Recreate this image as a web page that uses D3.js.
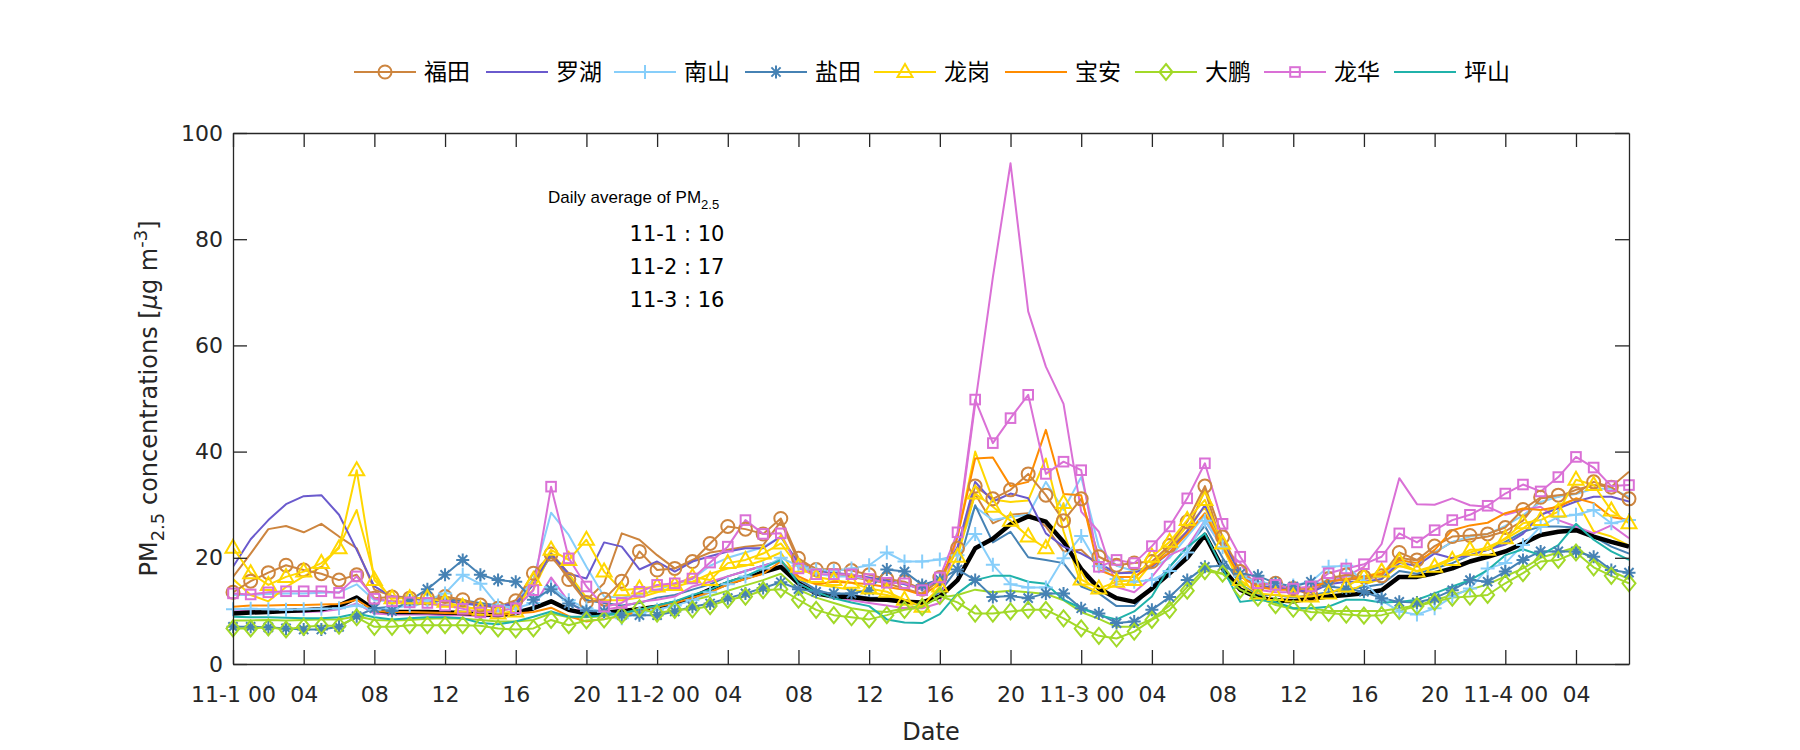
<!DOCTYPE html>
<html>
<head>
<meta charset="utf-8">
<script src="https://cdn.jsdelivr.net/npm/d3@7"></script>
<style>
  html, body { margin: 0; padding: 0; background: #fff; }
  svg { display: block; }
</style>
</head>
<body>
<svg id="chart" width="1800" height="750"></svg>
<script>
// ---------------- DATA ----------------
const stationNames = ["福田", "罗湖", "南山", "盐田", "龙岗", "宝安", "大鹏", "龙华", "坪山"];
const tickHours = [0, 4, 8, 12, 16, 20, 24, 28, 32, 36, 40, 44, 48, 52, 56, 60, 64, 68, 72, 76];
const tickLabels = ["11-1 00", "04", "08", "12", "16", "20", "11-2 00", "04", "08", "12", "16", "20",
                    "11-3 00", "04", "08", "12", "16", "20", "11-4 00", "04"];
const yTicks = [0, 20, 40, 60, 80, 100];
const dailyAverage = [["11-1", 10], ["11-2", 17], ["11-3", 16]];

// hourly PM2.5, 11-1 00 .. 11-4 07 (80 hours)
const futian = [13.5,15.6,17.2,18.6,17.7,17.0,15.8,16.8, 12.4,12.6,12.4,12.4,12.7,12.1,11.1,10.5,
  11.9,17.1,20.7,15.9,11.6,12.2,15.6,21.2, 17.7,18.0,19.3,22.7,25.9,25.4,24.5,27.4,
  19.9,17.8,17.9,17.6,16.8,16.0,15.5,14.1, 16.3,21.8,33.5,31.1,32.8,35.8,31.8,27.0,
  31.1,20.2,18.6,19.0,19.3,22.3,26.8,33.5, 23.9,17.4,14.9,15.2,14.2,13.0,16.1,16.8,
  16.4,16.6,21.0,19.6,22.2,24.0,24.2,24.5, 25.7,29.1,31.4,31.8,32.1,34.3,33.3,31.1];
const luohu = [18.3,23.5,27.1,30.1,31.6,31.8,28.1,21.5, 14.6,12.7,12.3,12.0,11.8,11.5,11.0,10.8,
  11.5,15.0,20.8,17.0,16.1,22.9,22.1,17.8, 19.3,17.4,19.3,20.3,21.2,21.8,21.8,24.0,
  19.0,17.5,17.2,16.8,16.3,15.7,15.0,14.2, 15.8,22.0,34.3,30.6,32.1,31.2,24.6,22.1,
  20.8,19.0,17.1,17.2,18.3,21.0,25.0,29.9, 23.0,17.0,14.5,14.5,14.0,13.5,15.0,15.5,
  15.5,16.0,19.0,18.5,20.8,19.9,20.5,21.5, 22.5,24.5,28.1,29.3,30.6,31.5,31.5,30.6];
const nanshan = [10.3,10.4,10.3,10.2,10.3,10.4,10.5,11.0, 10.2,10.5,11.0,12.0,13.3,16.8,15.1,11.0,
  10.5,11.5,14.5,12.0,10.5,9.8,8.6,9.6, 10.2,11.0,12.0,13.5,15.0,16.5,18.0,20.0,
  18.5,17.8,17.5,18.0,18.6,21.0,19.3,19.3, 19.7,20.5,24.5,18.7,15.0,14.4,14.4,19.9,
  24.1,18.4,16.0,15.5,15.8,17.5,21.0,27.0, 22.0,16.5,15.5,15.0,14.8,15.5,18.3,18.5,
  15.5,12.0,9.9,9.3,10.5,12.7,14.2,18.0, 19.0,22.4,25.9,27.7,28.1,29.0,26.5,27.1];
const yantian = [7.0,7.0,6.9,6.7,6.5,6.5,7.0,9.0, 10.5,10.0,12.0,14.1,16.8,19.6,16.8,15.8,
  15.5,12.1,14.1,11.4,10.0,9.9,9.2,9.2, 9.2,9.9,10.8,11.4,12.4,13.3,14.3,15.4,
  14.1,13.6,13.3,13.3,13.9,17.8,17.4,14.9, 15.9,17.8,15.8,12.6,12.8,12.4,13.3,13.3,
  10.5,9.5,7.7,8.0,10.2,12.6,15.8,18.3, 18.5,17.0,16.6,15.2,14.6,15.5,14.6,14.2,
  13.6,12.4,11.7,11.6,12.4,13.9,15.8,15.5, 17.4,19.6,21.2,21.2,21.2,20.2,17.7,17.2];
const longgang = [21.9,17.1,14.9,16.4,17.4,19.0,21.8,36.5, 15.8,12.4,12.4,12.4,11.7,10.8,10.2,9.5,
  9.9,15.8,21.5,19.6,23.4,17.4,13.9,14.2, 14.6,14.9,16.4,15.8,19.0,19.6,20.8,22.7,
  18.3,16.4,15.8,15.3,14.2,13.6,12.1,10.8, 14.6,20.2,32.1,29.6,27.0,24.0,21.8,30.3,
  15.9,14.2,15.5,15.8,20.2,23.0,27.1,30.9, 22.7,15.8,13.3,13.0,12.7,12.7,13.3,14.6,
  16.4,17.4,19.3,17.4,18.3,19.6,21.5,21.5, 23.7,26.5,27.1,28.7,34.7,33.7,28.9,26.5];
const baoan = [10.8,11.0,11.0,11.1,11.1,11.2,11.3,12.1, 10.0,9.8,9.8,9.7,9.6,9.5,9.3,9.2,
  9.5,9.8,10.6,9.0,8.0,8.5,9.0,10.0, 10.8,11.5,12.5,13.5,15.0,16.0,17.0,19.3,
  16.5,15.0,15.5,15.3,15.0,14.5,14.0,13.0, 15.0,24.0,38.7,38.9,33.5,34.3,44.1,32.0,
  31.8,17.7,16.4,16.4,18.6,21.0,24.5,28.4, 22.0,16.5,14.5,14.0,14.0,14.5,15.5,16.0,
  16.5,17.0,19.6,19.0,21.5,25.2,26.1,26.6, 28.4,29.3,29.0,29.6,31.2,30.3,27.7,27.1];
const dapeng = [6.7,6.7,6.9,6.5,7.0,7.2,7.2,8.8, 7.0,7.0,7.3,7.3,7.3,7.3,7.2,6.7,
  6.5,6.7,8.3,7.3,8.2,8.4,9.2,10.5, 9.5,10.2,10.3,10.9,12.1,12.7,13.9,14.1,
  12.1,10.2,9.2,8.8,8.4,9.2,10.2,10.7, 12.8,11.6,9.5,9.5,9.9,10.2,10.2,8.6,
  6.7,5.3,4.8,6.1,8.3,10.2,13.8,17.5, 17.0,14.0,12.5,11.1,10.4,9.8,9.6,9.3,
  9.1,9.2,10.0,10.9,11.7,12.5,12.7,13.0, 15.2,17.1,19.3,19.6,21.0,18.2,16.6,15.2];
const longhua = [13.3,13.1,13.5,13.7,13.7,13.7,13.4,16.5, 12.3,11.8,11.6,11.5,11.0,10.4,9.7,10.0,
  10.5,13.9,33.4,19.9,14.6,10.8,11.5,13.6, 14.9,15.2,16.1,19.1,22.1,27.1,24.5,24.6,
  18.0,16.9,16.9,16.9,16.0,15.3,15.2,13.9, 16.3,24.8,49.8,41.6,46.3,50.7,35.8,38.1,
  36.5,18.3,19.6,19.0,22.2,25.9,31.2,37.8, 26.4,20.2,15.2,14.9,14.2,14.6,17.1,18.0,
  18.8,20.2,24.6,22.9,25.2,27.1,28.1,29.8, 32.1,33.8,32.5,35.2,39.0,37.0,33.5,33.7];
const pingshan = [8.9,8.8,8.8,8.7,8.6,8.6,8.8,9.5, 8.8,8.4,8.6,8.8,8.8,8.6,7.7,7.5,
  8.0,8.9,9.9,8.9,8.9,9.2,9.6,10.2, 11.0,11.8,13.0,14.0,15.5,16.5,18.0,19.6,
  15.2,13.5,12.4,11.6,10.9,8.4,7.8,7.7, 9.4,13.3,15.8,16.6,16.6,15.5,15.1,12.1,
  10.5,9.2,8.4,9.9,12.7,18.3,22.0,24.6, 18.0,11.7,12.1,11.7,10.5,10.5,10.8,12.1,
  12.1,11.6,11.7,12.1,13.3,14.6,15.8,17.7, 20.5,21.6,20.5,22.4,26.4,23.4,21.2,19.6];

// second group of stations (drawn without markers)
const futian2 = [16.4,20.8,25.4,26.0,24.8,26.4,24.0,21.8, 14.0,12.8,12.5,12.2,12.3,11.8,11.0,10.8,
  12.0,16.0,20.2,16.4,12.0,15.2,24.6,23.4, 20.5,18.0,19.6,21.0,21.5,22.1,22.4,26.8,
  19.3,18.0,17.1,16.4,15.8,15.2,14.2,13.3, 15.8,21.5,32.0,26.5,28.1,28.4,25.9,21.2,
  21.5,18.3,17.1,17.4,18.6,21.8,25.0,32.8, 22.0,16.5,14.5,14.5,14.0,14.0,15.5,16.0,
  16.0,16.5,20.0,19.5,21.0,23.0,23.5,24.0, 25.0,27.0,31.2,31.5,32.8,33.7,33.4,36.2];
const nanshan2 = [13.0,13.0,13.2,13.3,13.3,13.4,13.5,15.0, 12.0,11.8,11.7,11.5,11.0,11.3,11.0,10.8,
  11.5,16.0,28.5,24.3,18.3,12.7,12.5,13.0, 14.0,15.0,16.0,18.5,20.0,21.0,22.0,24.0,
  18.5,17.0,16.5,16.5,16.0,15.5,15.0,14.0, 16.0,22.0,29.6,27.1,27.7,28.1,34.3,29.0,
  35.2,22.0,18.5,17.5,18.0,20.0,24.0,28.0, 22.0,17.0,15.0,14.5,14.0,14.5,16.0,16.5,
  16.5,16.5,19.5,19.0,21.0,23.0,24.0,24.5, 26.0,28.0,30.5,31.5,32.0,33.0,33.0,31.5];
const yantian2 = [9.8,9.8,9.9,10.0,10.0,10.1,10.4,12.5, 10.5,10.8,11.0,11.5,12.0,12.0,11.5,11.0,
  11.0,15.0,20.5,17.0,12.0,11.5,11.0,11.5, 12.5,13.0,14.0,15.0,16.5,17.5,18.5,19.5,
  16.0,14.0,13.0,13.0,12.5,12.5,12.0,11.5, 13.5,18.0,29.9,22.9,24.9,20.1,19.6,19.0,
  14.6,13.3,10.9,10.9,14.6,18.3,22.0,26.0, 20.0,15.0,13.0,13.0,12.5,13.0,13.5,14.0,
  14.5,15.0,17.5,17.0,18.0,19.0,20.5,21.5, 23.0,24.9,25.9,25.9,25.7,24.0,22.1,20.8];
const longgang2 = [16.0,13.0,11.8,14.5,16.5,18.3,22.1,29.0, 16.5,12.0,11.5,11.3,11.0,10.8,10.3,10.0,
  10.5,14.0,21.0,17.0,12.5,12.0,12.0,12.5, 13.5,14.5,15.5,17.0,18.0,18.5,19.5,21.0,
  16.0,15.0,14.5,14.0,13.5,13.0,12.0,11.5, 14.0,24.0,40.0,31.0,30.5,30.8,38.7,25.0,
  15.0,13.5,15.0,15.0,19.0,22.0,26.0,29.5, 22.0,15.0,12.5,12.0,12.0,12.0,12.5,13.5,
  15.0,16.0,18.5,17.5,18.5,20.0,21.0,22.0, 23.5,25.5,28.0,30.0,31.0,25.0,24.0,22.3];
const dapeng2 = [8.2,8.2,8.3,8.2,8.3,8.4,8.4,9.0, 8.3,8.2,8.3,8.5,8.6,8.5,8.3,8.0,
  8.0,8.3,9.5,8.8,8.8,9.0,9.5,10.2, 10.8,11.5,12.0,12.8,13.8,14.8,15.8,17.0,
  14.0,12.5,11.5,10.5,10.0,9.8,10.5,11.0, 12.5,13.0,14.0,13.5,13.8,13.5,13.2,12.0,
  9.8,8.5,7.0,7.0,8.5,11.0,14.5,18.0, 17.0,14.0,12.5,11.5,10.5,10.5,10.0,10.0,
  10.0,10.0,10.5,11.0,12.0,13.0,14.0,15.0, 16.5,18.0,20.0,21.0,22.0,19.5,17.5,16.0];
const longhua2 = [10.2,9.9,9.8,9.8,9.8,9.9,10.3,11.4, 9.5,9.3,9.3,9.3,9.2,9.2,9.0,9.0,
  9.3,10.8,16.3,11.7,9.5,10.2,10.8,11.7, 12.1,12.7,14.6,15.5,16.5,17.5,18.5,19.3,
  15.5,13.5,12.5,12.0,11.5,11.0,10.5,10.5, 11.5,24.0,49.0,72.8,94.3,66.4,56.0,49.0,
  28.7,24.9,14.5,13.5,16.4,20.5,22.0,27.0, 22.0,19.0,14.0,13.5,13.5,14.0,15.5,16.5,
  18.3,22.6,35.0,30.1,30.0,31.2,29.9,29.6, 28.1,29.0,29.6,27.1,25.9,24.6,26.1,23.7];
// average of all stations (thick black line)
const meanAll = [9.5,9.7,9.8,10.0,10.1,10.3,11.0,12.5, 10.2,9.8,9.8,9.8,9.7,9.6,9.4,9.2,
  9.6,10.5,11.8,10.2,9.5,9.6,10.0,10.3, 10.8,11.5,12.5,14.0,15.2,16.3,17.3,18.3,
  15.2,13.3,12.7,12.6,12.2,12.1,11.7,11.6, 12.7,15.8,21.8,23.6,26.3,27.8,26.8,23.0,
  17.9,14.2,12.4,11.7,14.2,17.1,20.0,24.3, 18.0,14.0,12.5,12.0,11.8,12.4,12.7,13.0,
  13.3,13.9,16.4,16.4,17.1,18.0,19.3,20.2, 21.2,22.7,24.3,24.9,25.2,24.0,23.0,22.1];

// ---------------- STYLE ----------------
const FONT = "'DejaVu Sans', 'Liberation Sans', sans-serif";
const ANNF = "'Liberation Sans', Arial, sans-serif";
const CJK = "'Noto Sans CJK SC', 'Noto Sans', sans-serif";
const AX = "#262626";

const mainSeries = [
  { name: "福田", values: futian,  color: "#CD853F", marker: "circle" },
  { name: "罗湖", values: luohu,   color: "#6A5ACD", marker: null },
  { name: "南山", values: nanshan, color: "#87CEFA", marker: "plus" },
  { name: "盐田", values: yantian, color: "#4682B4", marker: "asterisk" },
  { name: "龙岗", values: longgang, color: "#FFD700", marker: "triangle" },
  { name: "宝安", values: baoan,   color: "#FF8C00", marker: null },
  { name: "大鹏", values: dapeng,  color: "#A2D928", marker: "diamond" },
  { name: "龙华", values: longhua, color: "#DA70D6", marker: "square" },
  { name: "坪山", values: pingshan, color: "#20B2AA", marker: null }
];
const extraSeries = [
  { values: futian2,   color: "#CD853F" },
  { values: nanshan2,  color: "#87CEFA" },
  { values: yantian2,  color: "#4682B4" },
  { values: longgang2, color: "#FFD700" },
  { values: dapeng2,   color: "#A2D928" },
  { values: longhua2,  color: "#DA70D6" }
];

// ---------------- LAYOUT ----------------
const svg = d3.select("#chart");
const L = 233, R = 1629, T = 133, B = 664;
const x = d3.scaleLinear().domain([0, 79]).range([L, R]);
const y = d3.scaleLinear().domain([0, 100]).range([B, T]);

const line = d3.line().x((d, i) => x(i)).y(d => y(d));

const plot = svg.append("g");
plot.append("clipPath").attr("id", "clip").append("rect")
  .attr("x", L).attr("y", T).attr("width", R - L).attr("height", B - T);
const lines = plot.append("g").attr("clip-path", "url(#clip)");

extraSeries.forEach(s => {
  lines.append("path").datum(s.values).attr("d", line)
    .attr("fill", "none").attr("stroke", s.color).attr("stroke-width", 2)
    .attr("stroke-linejoin", "round");
});
lines.append("path").datum(meanAll).attr("d", line)
  .attr("fill", "none").attr("stroke", "#000").attr("stroke-width", 4.5)
  .attr("stroke-linejoin", "round");

function drawMarker(g, type, cx, cy, color) {
  let el;
  if (type === "circle") {
    el = g.append("circle").attr("cx", cx).attr("cy", cy).attr("r", 6.5);
  } else if (type === "square") {
    el = g.append("rect").attr("x", cx - 4.8).attr("y", cy - 4.8).attr("width", 9.6).attr("height", 9.6);
  } else if (type === "triangle") {
    el = g.append("path").attr("d", `M${cx},${cy - 8}L${cx + 7.5},${cy + 5}L${cx - 7.5},${cy + 5}Z`);
  } else if (type === "diamond") {
    el = g.append("path").attr("d", `M${cx},${cy - 8}L${cx + 6.5},${cy}L${cx},${cy + 8}L${cx - 6.5},${cy}Z`);
  } else if (type === "plus") {
    el = g.append("path").attr("d", `M${cx - 7},${cy}H${cx + 7}M${cx},${cy - 7}V${cy + 7}`);
  } else if (type === "asterisk") {
    const a = 6.5, b = 4.6;
    el = g.append("path").attr("d",
      `M${cx - a},${cy}H${cx + a}M${cx},${cy - a}V${cy + a}M${cx - b},${cy - b}L${cx + b},${cy + b}M${cx - b},${cy + b}L${cx + b},${cy - b}`);
  }
  if (el) el.attr("fill", "none").attr("stroke", color).attr("stroke-width", 2);
}

mainSeries.forEach(s => {
  lines.append("path").datum(s.values).attr("d", line)
    .attr("fill", "none").attr("stroke", s.color).attr("stroke-width", 2)
    .attr("stroke-linejoin", "round");
  if (s.marker) {
    const mg = plot.append("g");
    s.values.forEach((v, i) => drawMarker(mg, s.marker, x(i), y(v), s.color));
  }
});

// ---------------- AXES ----------------
function styleAxis(g) {
  g.selectAll(".domain").attr("stroke", AX).attr("stroke-width", 1.3);
  g.selectAll(".tick line").attr("stroke", AX).attr("stroke-width", 1.3);
  g.selectAll(".tick text").attr("fill", AX).style("font-family", FONT).style("font-size", "22px");
}
const xAxis = svg.append("g").attr("transform", `translate(0,${B})`)
  .call(d3.axisBottom(x).tickValues(tickHours).tickSizeInner(-14).tickSizeOuter(0).tickPadding(22)
    .tickFormat((d, i) => tickLabels[i]));
styleAxis(xAxis);
const xTop = svg.append("g").attr("transform", `translate(0,${T})`)
  .call(d3.axisTop(x).tickValues(tickHours).tickSizeInner(-14).tickSizeOuter(0).tickFormat(""));
styleAxis(xTop);
const yAxis = svg.append("g").attr("transform", `translate(${L},0)`)
  .call(d3.axisLeft(y).tickValues(yTicks).tickSizeInner(-14).tickSizeOuter(0).tickPadding(10));
styleAxis(yAxis);
const yRight = svg.append("g").attr("transform", `translate(${R},0)`)
  .call(d3.axisRight(y).tickValues(yTicks).tickSizeInner(-14).tickSizeOuter(0).tickFormat(""));
styleAxis(yRight);

// axis titles
svg.append("text").attr("x", (L + R) / 2).attr("y", 740).attr("text-anchor", "middle")
  .attr("fill", AX).style("font-family", FONT).style("font-size", "24px").text("Date");

const yl = svg.append("text").attr("transform", `translate(157,${(T + B) / 2}) rotate(-90)`)
  .attr("text-anchor", "middle").attr("fill", AX)
  .style("font-family", FONT).style("font-size", "24px");
yl.append("tspan").text("PM");
yl.append("tspan").attr("dy", 7).style("font-size", "18px").text("2.5");
yl.append("tspan").attr("dy", -7).text(" concentrations [");
yl.append("tspan").style("font-style", "italic").text("μ");
yl.append("tspan").text("g m");
yl.append("tspan").attr("dy", -10).style("font-size", "18px").text("-3");
yl.append("tspan").attr("dy", 10).text("]");

// annotation
const ann = svg.append("g").attr("fill", "#000");
const t1 = ann.append("text").attr("x", 548).attr("y", 203)
  .style("font-family", ANNF).style("font-size", "17px");
t1.append("tspan").text("Daily average of PM");
t1.append("tspan").attr("dy", 6).style("font-size", "13px").text("2.5");
dailyAverage.forEach((d, i) => {
  ann.append("text").attr("x", 677).attr("y", 241 + i * 33).attr("text-anchor", "middle")
    .style("font-family", FONT).style("font-size", "21px")
    .text(`${d[0]} : ${d[1]}`);
});

// ---------------- LEGEND ----------------
const legendX = [354, 486, 614, 745, 874, 1005, 1135, 1264, 1394];
const legY = 72;
const leg = svg.append("g");
mainSeries.forEach((s, i) => {
  const lx = legendX[i];
  leg.append("line").attr("x1", lx).attr("x2", lx + 62).attr("y1", legY).attr("y2", legY)
    .attr("stroke", s.color).attr("stroke-width", 2);
  if (s.marker) drawMarker(leg, s.marker, lx + 31, legY, s.color);
  leg.append("text").attr("x", lx + 70).attr("y", legY).attr("dy", "0.36em")
    .attr("fill", "#000").style("font-family", CJK).style("font-size", "23px").text(s.name);
});
</script>
</body>
</html>
